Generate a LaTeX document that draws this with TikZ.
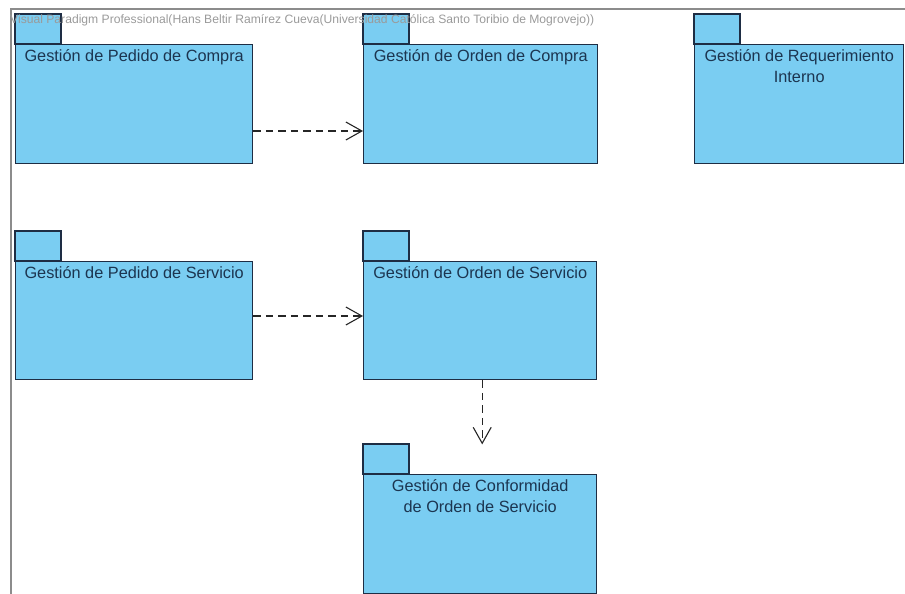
\documentclass[tikz,border=0pt]{standalone}
\usepackage{fontspec}
\setmainfont{Liberation Sans}
\usetikzlibrary{arrows.meta}
\definecolor{pkgfill}{HTML}{7ACDF2}
\definecolor{pkgline}{HTML}{1E2D44}
\definecolor{pkgtext}{HTML}{1C3550}
\definecolor{framegray}{HTML}{8C8C8C}
\definecolor{marktext}{HTML}{9A9A9A}
\tikzset{
  pkgbody/.style={draw=pkgline, fill=pkgfill, line width=1.4pt, anchor=north west,
    inner sep=0pt, minimum width=#1},
  pkgtab/.style={draw=pkgline, fill=pkgfill, line width=1.4pt},
  pkglabel/.style={anchor=north, align=center, text=pkgtext, inner sep=0pt,
    font=\fontsize{16.3}{21}\selectfont},
  dep/.style={draw=black!85, line width=1.1pt, dash pattern=on 7.5pt off 5pt,
    -{Straight Barb[length=16pt,width=18pt,line width=1.1pt]}},
}
\begin{document}
\begin{tikzpicture}[x=1pt,y=-1pt]
\useasboundingbox (0,0) rectangle (905,594);
% diagram frame
\draw[framegray, line width=1.6pt] (11,594) -- (11,9) -- (905,9);
% packages: body node, tab above it, title at top of body
\newcommand{\pkg}[6]{%
  \node[pkgbody=#4pt, minimum height=#5pt] (#1) at (#2,#3) {};
  \draw[pkgtab] (#1.north west) rectangle ++(46,-30);
  \node[pkglabel] at ([yshift=-5pt]#1.north) {#6};
}
\pkg{pc}{15}{44}{237}{119}{Gestión de Pedido de Compra}
\pkg{oc}{363}{44}{234}{119}{Gestión de Orden de Compra}
\pkg{ri}{694}{44}{209}{119}{Gestión de Requerimiento\\Interno}
\pkg{ps}{15}{261}{237}{118}{Gestión de Pedido de Servicio}
\pkg{os}{363}{261}{233}{118}{Gestión de Orden de Servicio}
\pkg{co}{363}{474}{233}{119}{Gestión de Conformidad\\de Orden de Servicio}
% tool watermark, printed over the tabs
\node[anchor=west, inner sep=0pt, text=marktext] (mark) at (10,20)
  {\resizebox{584pt}{!}{\fontsize{9}{10}\selectfont Visual Paradigm Professional(Hans Beltir Ram\'{\i}rez Cueva(Universidad Cat\'olica Santo Toribio de Mogrovejo))}};
% dependencies
\draw[dep] ([yshift=-87pt]pc.north east) -- ([yshift=-87pt]oc.north west);
\draw[dep] ([yshift=-55pt]ps.north east) -- ([yshift=-55pt]os.north west);
\draw[dep] ([xshift=2pt]os.south) -- ++(0,64);
\end{tikzpicture}
\end{document}
